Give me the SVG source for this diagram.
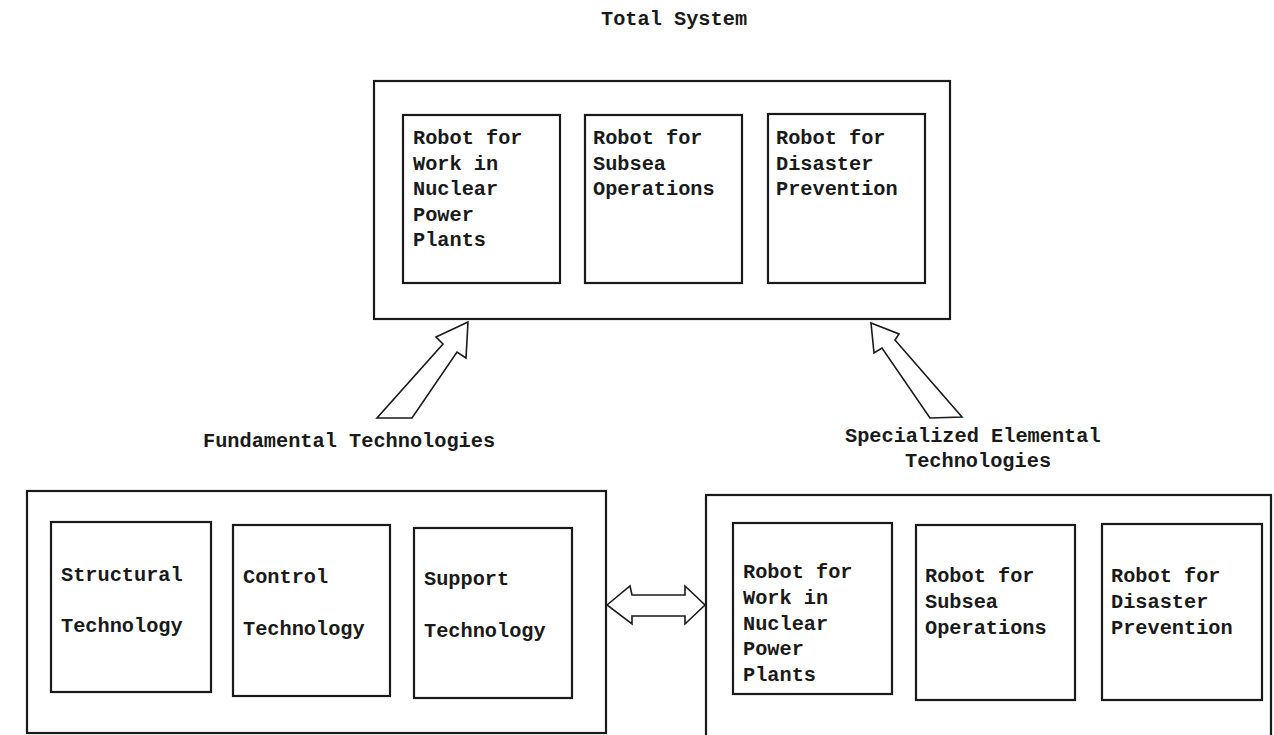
<svg xmlns="http://www.w3.org/2000/svg" width="1274" height="735" viewBox="0 0 1274 735">
<style>
.box{fill:none;stroke:#1a1a1a;stroke-width:2.2}
.arr{fill:#fff;stroke:#1a1a1a;stroke-width:1.6;stroke-linejoin:miter}
text{font-family:"Liberation Mono","Courier New",monospace;font-weight:bold;font-size:20.3px;fill:#1a1a1a}
</style>
<rect x="0" y="0" width="1274" height="735" fill="#fff"/>
<text x="601" y="25">Total System</text>
<g id="total-system">
<rect class="box" x="374" y="81" width="576" height="238"/>
</g>
<g id="top-nuclear">
<rect class="box" x="403" y="115" width="157" height="168"/>
<text x="413" y="144">Robot for</text>
<text x="413" y="169.5">Work in</text>
<text x="413" y="195">Nuclear</text>
<text x="413" y="220.5">Power</text>
<text x="413" y="246">Plants</text>
</g>
<g id="top-subsea">
<rect class="box" x="585" y="115" width="157" height="168"/>
<text x="593" y="144">Robot for</text>
<text x="593" y="169.5">Subsea</text>
<text x="593" y="195">Operations</text>
</g>
<g id="top-disaster">
<rect class="box" x="768" y="114" width="157" height="169"/>
<text x="776" y="144">Robot for</text>
<text x="776" y="169.5">Disaster</text>
<text x="776" y="195">Prevention</text>
</g>
<g id="label-fundamental">
<text x="203" y="447">Fundamental Technologies</text>
</g>
<g id="label-specialized">
<text x="845" y="442">Specialized Elemental</text>
<text x="905" y="467">Technologies</text>
</g>
<g id="fundamental">
<rect class="box" x="27" y="491" width="579" height="242"/>
</g>
<g id="structural">
<rect class="box" x="51" y="522" width="160" height="170"/>
<text x="61" y="581">Structural</text>
<text x="61" y="632">Technology</text>
</g>
<g id="control">
<rect class="box" x="233" y="525" width="157" height="171"/>
<text x="243" y="583">Control</text>
<text x="243" y="635">Technology</text>
</g>
<g id="support">
<rect class="box" x="414" y="528" width="158" height="170"/>
<text x="424" y="585">Support</text>
<text x="424" y="637">Technology</text>
</g>
<g id="specialized">
<rect class="box" x="706" y="495" width="565" height="250"/>
</g>
<g id="bot-nuclear">
<rect class="box" x="733" y="523" width="159" height="171"/>
<text x="743" y="578">Robot for</text>
<text x="743" y="603.8">Work in</text>
<text x="743" y="629.6">Nuclear</text>
<text x="743" y="655.4">Power</text>
<text x="743" y="681.2">Plants</text>
</g>
<g id="bot-subsea">
<rect class="box" x="916" y="525" width="159" height="175"/>
<text x="925" y="582">Robot for</text>
<text x="925" y="608">Subsea</text>
<text x="925" y="634">Operations</text>
</g>
<g id="bot-disaster">
<rect class="box" x="1102" y="524" width="160" height="176"/>
<text x="1111" y="582">Robot for</text>
<text x="1111" y="608">Disaster</text>
<text x="1111" y="634">Prevention</text>
</g>
<g id="connectors">
<polygon class="arr" points="468,322 436,337 443,344 377,418 412,418 457,352 466,358"/>
<polygon class="arr" points="871,323 874,353 882,348 930,418 962,417 895,340 899,334"/>
<polygon class="arr" points="607,605 630,586 632,595 685,595 685,586 705,605 685,624 685,616 632,616 632,624"/>
</g>
</svg>
